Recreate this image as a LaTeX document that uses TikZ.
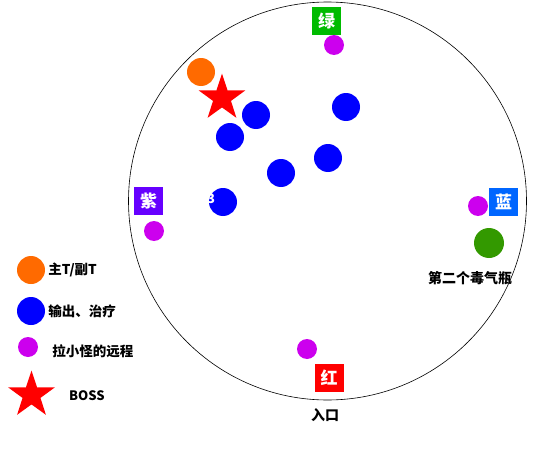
\documentclass[tikz,border=0pt]{standalone}
\usepackage{fontspec}
\setmainfont{Noto Sans CJK SC}
\usepackage{xcolor}
\usetikzlibrary{shapes,positioning}

\definecolor{tankorange}{HTML}{FF6A00}
\definecolor{dpsblue}{HTML}{0000FF}
\definecolor{rangepurple}{HTML}{CC00EE}
\definecolor{poisongreen}{HTML}{339900}
\definecolor{markgreen}{HTML}{00BB00}
\definecolor{markpurple}{HTML}{6600FF}
\definecolor{markblue}{HTML}{0066FF}
\definecolor{markred}{HTML}{FF0000}

\begin{document}
\begin{tikzpicture}[
    x=1pt, y=-1pt,
    tank/.style={circle, fill=tankorange, minimum size=28pt, inner sep=0pt},
    dps/.style={circle, fill=dpsblue, minimum size=28pt, inner sep=0pt},
    ranged/.style={circle, fill=rangepurple, minimum size=20pt, inner sep=0pt},
    boss/.style={star, star points=5, star point ratio=2.6, fill=red, minimum size=49pt, inner sep=0pt},
    raidmark/.style={rectangle, text=white, font=\bfseries\fontsize{17}{17}\selectfont, minimum width=29pt, minimum height=28pt, inner sep=0pt},
    legend/.style={font=\bfseries\fontsize{13.5}{13.5}\selectfont, anchor=west, inner sep=0pt}
]
\useasboundingbox (0,0) rectangle (550,450);

% the room
\draw[semithick] (327.5,201) circle (199);

% markers
\node[raidmark, fill=markgreen] (green) at (326.5,21) {绿};
\node[raidmark, fill=markpurple] (purple) at (148.5,201) {紫};
\node[raidmark, fill=markblue] (blue) at (503.5,201.5) {蓝};
\node[raidmark, fill=markred] (red) at (329,378) {红};
\node[font=\bfseries\fontsize{14}{14}\selectfont] (entry) at (325,415) {入口};

% boss and tank
\node[tank] (tank) at (201,72) {};
\node[boss] (boss) at (222,98) {};

% dps and healers
\node[dps] (dps1) at (256,115) {};
\node[dps] (dps2) at (230,137) {};
\node[dps] (dps3) at (346,107) {};
\node[dps] (dps4) at (328,158) {};
\node[dps] (dps5) at (281,173) {};
\node[dps] (dps6) at (223,202) {};
\node[text=white, font=\bfseries\fontsize{13}{13}\selectfont, inner sep=0pt] (num3) at (211,199) {3};

% ranged
\node[ranged] (ranged1) at (334,45) {};
\node[ranged] (ranged2) at (154,231) {};
\node[ranged] (ranged3) at (478,206) {};
\node[ranged] (ranged4) at (307,349) {};

% poison bottle
\node[circle, fill=poisongreen, minimum size=30pt, inner sep=0pt] (bottle) at (489,243) {};
\node[font=\bfseries\fontsize{14}{14}\selectfont] (bottlelabel) at (470,278) {第二个毒气瓶};

% legend
\node[tank] (keytank) at (31,270) {};
\node[legend, right=3pt of keytank] {主T/副T};
\node[dps] (keydps) at (31,311) {};
\node[legend, right=3pt of keydps] {输出、治疗};
\node[ranged] (keyranged) at (28,347) {};
\node[legend, right=14pt of keyranged, yshift=-4pt] {拉小怪的远程};
\node[boss] (keyboss) at (31.5,395) {};
\node[legend, font=\bfseries\fontsize{13}{13}\selectfont] at (69,396) {BOSS};

\end{tikzpicture}
\end{document}
